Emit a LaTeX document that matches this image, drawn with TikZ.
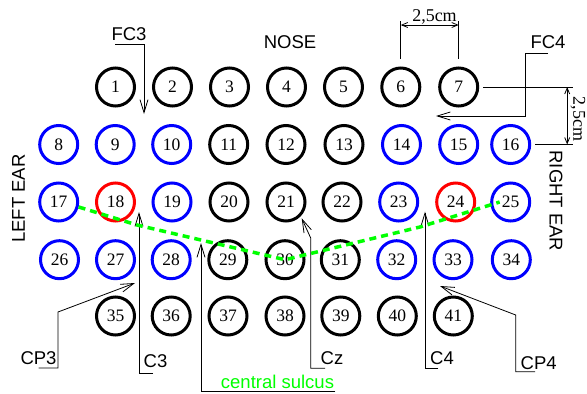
\documentclass[tikz,border=0pt]{standalone}
\usepackage{fontspec}
\setmainfont{Liberation Serif}
\setsansfont{Liberation Sans}
\usepackage{tikz}
\usetikzlibrary{arrows.meta, calc}

\begin{document}
\begin{tikzpicture}[
  x=1pt, y=-1pt,
  elec/.style={circle, draw, line width=3pt, minimum size=38pt, inner sep=0pt,
               font=\fontsize{17.5}{18}\selectfont},
  lbl/.style={font=\sffamily\fontsize{18.5}{20}\selectfont, inner sep=1pt},
  cmlbl/.style={font=\fontsize{18}{20}\selectfont, inner sep=1pt},
  lead/.style={line width=0.8pt, -{Straight Barb[length=13pt, width=8pt]}},
  dim/.style={line width=0.8pt},
  dimarrow/.style={line width=0.8pt,
                   {Straight Barb[length=6pt, width=5pt]}-{Straight Barb[length=6pt, width=5pt]}},
  sulcus/.style={green, line width=3.5pt, dash pattern=on 7pt off 5pt}]

  \useasboundingbox (0,0) rectangle (587,394);

  % electrodes
  \foreach \n/\x/\y/\c in {
      1/115.5/87/black, 2/172.5/87/black, 3/229.5/87/black, 4/286.5/87/black,
      5/343.5/87/black, 6/400.8/87/black, 7/458.7/87/black,
      8/58.7/144.5/blue, 9/115.2/144.5/blue, 10/171.7/144.5/blue, 11/228.7/144.5/black,
      12/286/144.5/black, 13/344/144.5/black, 14/401.5/144.5/blue, 15/458.7/144.5/blue,
      16/510.7/144.5/blue,
      17/58.7/202/blue, 18/115.5/202/red, 19/172/202/blue, 20/229/202/black,
      21/286/202/black, 22/342/202/black, 23/398.7/202/blue, 24/455.7/202/red,
      25/510.7/202/blue,
      26/59.5/259.7/blue, 27/115.5/259.7/blue, 28/171.2/259.7/blue, 29/227.8/259.7/black,
      30/285/259.7/black, 31/340.3/259.7/black, 32/396.7/259.7/blue, 33/453/259.7/blue,
      34/511.3/259.7/blue,
      35/115.5/316/black, 36/171.2/316/black, 37/228/316/black, 38/285/316/black,
      39/340.8/316/black, 40/397.3/316/black, 41/453.3/316/black}
    \node[elec, draw=\c] (e\n) at (\x,\y) {\n};

  % head orientation
  \node[lbl] (nose) at (290,42) {NOSE};
  \node[lbl, rotate=90] (lear) at (18.5,198.5) {LEFT EAR};
  \node[lbl, rotate=-90] (rear) at (556,201) {RIGHT EAR};

  % electrode names
  \node[lbl, anchor=south] (FC3) at (129,42) {FC3};
  \node[lbl, anchor=south] (FC4) at (548,50) {FC4};
  \node[lbl, anchor=south] (CP3) at (38.5,366) {CP3};
  \node[lbl, anchor=south] (C3) at (155.5,369) {C3};
  \node[lbl, anchor=south] (Cz) at (332,366) {Cz};
  \node[lbl, anchor=south] (C4) at (442,366) {C4};
  \node[lbl, anchor=south] (CP4) at (538.7,371) {CP4};
  \node[lbl, anchor=south, text=green] (sulc) at (277.5,390) {central sulcus};

  \coordinate (fc3tip) at (144,114);
  \coordinate (fc4bend) at (525.7,116);
  \coordinate (fc4tip) at (436,116);
  \coordinate (cp3bend) at (58,312);
  \coordinate (cp3tip) at (135,283);
  \coordinate (c3tip) at (139,212);
  \coordinate (czbend) at (310.7,238);
  \coordinate (cztip) at (301.7,218.3);
  \coordinate (c4tip) at (425,211.7);
  \coordinate (cp4bend) at (515.7,315);
  \coordinate (cp4tip) at (440,286);
  \coordinate (sulctip) at (201,243);

  \draw[lead] ([xshift=5pt, yshift=-2pt]FC3.south west) -| (fc3tip);
  \draw[lead] ([yshift=-3pt]FC4.south) -| (fc4bend) -- (fc4tip);
  \draw[lead] ([yshift=-2pt]CP3.south) -| (cp3bend) -- (cp3tip);
  \draw[lead] ([xshift=-2.5pt, yshift=-4pt]C3.south) -| (c3tip);
  \draw[lead] ([xshift=-7pt, yshift=-2.3pt]Cz.south) -| (czbend) -- (cztip);
  \draw[lead] ([xshift=-3.7pt, yshift=-2.3pt]C4.south) -| (c4tip);
  \draw[lead] ([xshift=-3.7pt, yshift=-0.7pt]CP4.south) -| (cp4bend) -- (cp4tip);
  \draw[lead] ([yshift=-1.7pt]sulc.south east) -| (sulctip);

  % 2,5cm spacing
  \draw[dim] ([yshift=8pt]e6.north) -- ++(0,-38);
  \draw[dim] ([yshift=8pt]e7.north) -- ++(0,-38);
  \draw[dimarrow] ([yshift=41.5pt]e6.north) -- ([yshift=41.5pt]e7.north);
  \node[cmlbl, anchor=base] (dtop) at (434.5,21.5) {2,5cm};

  \draw[dim] ([xshift=4pt]e7.east) -- ++(90,0);
  \draw[dim] ([xshift=4pt]e16.east) -- ++(38,0);
  \draw[dimarrow] ([xshift=88pt]e7.east) -- ([xshift=88pt]e7.east |- e16.east);
  \node[cmlbl, rotate=-90] (dright) at (578,119) {2,5cm};

  % central sulcus
  \coordinate (s1) at (137,225);
  \coordinate (s2) at (420,227);
  \draw[sulcus] (e17.-14) -- (s1) -- (e30.center) -- (s2) -- ([xshift=-11pt]e25.center);
\end{tikzpicture}
\end{document}
